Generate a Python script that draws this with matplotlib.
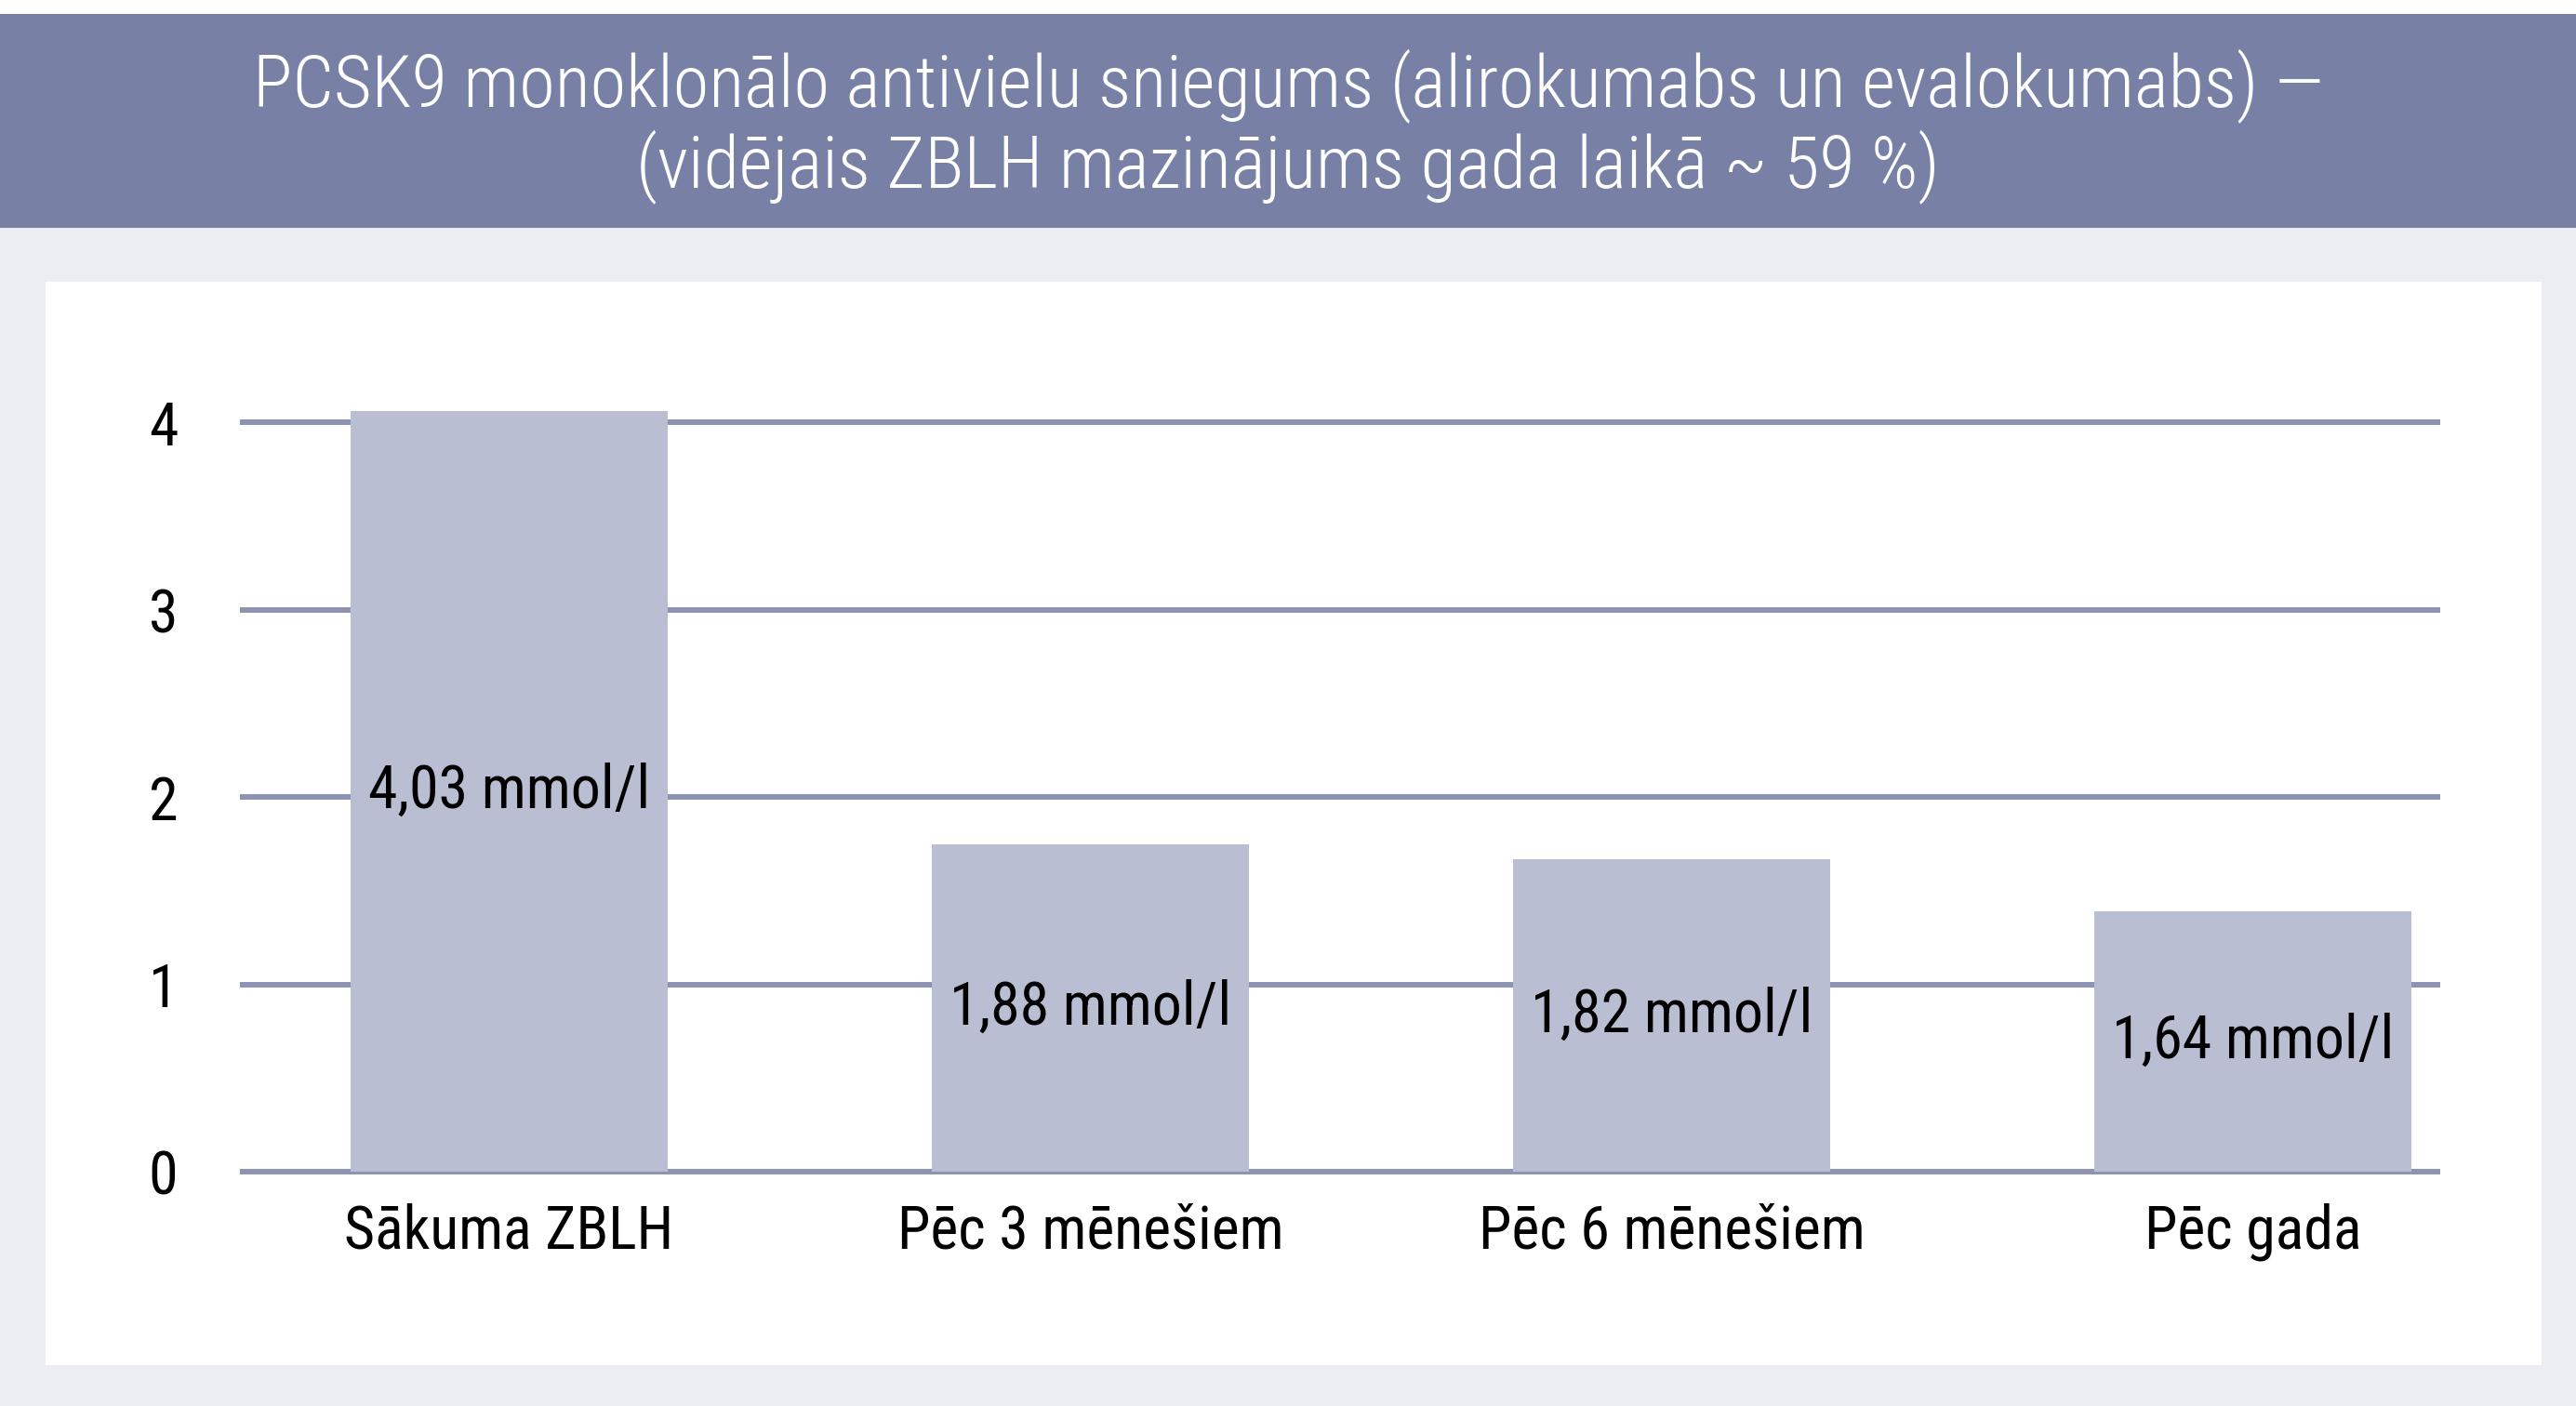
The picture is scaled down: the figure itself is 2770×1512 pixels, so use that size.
import matplotlib
matplotlib.use("Agg")
from matplotlib import pyplot as plt
from matplotlib.patches import Rectangle

plt.rcParams["font.family"] = ["Roboto Condensed", "Roboto", "DejaVu Sans"]

# data
categories = ["Sākuma ZBLH", "Pēc 3 mēnešiem", "Pēc 6 mēnešiem", "Pēc gada"]
bar_heights = [4.06, 1.75, 1.67, 1.39]
value_labels = ["4,03 mmol/l", "1,88 mmol/l", "1,82 mmol/l", "1,64 mmol/l"]
y_ticks = [0, 1, 2, 3, 4]
title_lines = [
    "PCSK9 monoklonālo antivielu sniegums (alirokumabs un evalokumabs) —",
    "(vidējais ZBLH mazinājums gada laikā ~ 59 %)",
]

W, H = 2770, 1512
header_col = "#7880a6"
bg_col = "#ecedf3"
grid_col = "#8d93b3"
bar_col = "#babed3"

fig = plt.figure(figsize=(W / 100, H / 100), dpi=100)
fig.patch.set_facecolor(bg_col)

# white strip on top, header band, white panel
fig.patches.append(Rectangle((0, 1 - 15 / H), 1, 15 / H, transform=fig.transFigure,
                             facecolor="white", edgecolor="none", zorder=-5))
fig.patches.append(Rectangle((0, 1 - 245 / H), 1, 230 / H, transform=fig.transFigure,
                             facecolor=header_col, edgecolor="none", zorder=-5))
fig.patches.append(Rectangle((49 / W, 1 - 1468 / H), (2733 - 49) / W, (1468 - 303) / H,
                             transform=fig.transFigure, facecolor="white", edgecolor="none", zorder=-5))

fig.text(0.5, 1 - 93 / H, title_lines[0], ha="center", va="center", color="white",
         fontsize=56.5, fontweight="light")
fig.text(0.5, 1 - 180 / H, title_lines[1], ha="center", va="center", color="white",
         fontsize=56.5, fontweight="light")

ymin, ymax = -0.1, 4.5
ax = fig.add_axes([258 / W, 1 - 1280.1 / H, 2366 / W, (1280.1 - 353.7) / H])
ax.set_zorder(2)
ax.set_facecolor("none")
ax.set_xlim(-0.463, 3.322)
ax.set_ylim(ymin, ymax)

for y in y_ticks:
    ax.axhline(y, color=grid_col, linewidth=4.3, zorder=1)

x = list(range(len(categories)))
ax.bar(x, bar_heights, width=0.545, color=bar_col, zorder=2)

for xi, h, lab in zip(x, bar_heights, value_labels):
    ax.text(xi, h / 2, lab, ha="center", va="center", fontsize=46, color="black", zorder=3)

ax.set_yticks(y_ticks)
ax.set_yticklabels([str(t) for t in y_ticks], fontsize=46)
ax.set_xticks(x)
ax.set_xticklabels(categories, fontsize=46)
ax.tick_params(axis="y", length=0, pad=48)
ax.tick_params(axis="x", length=0, pad=10)
for s in ax.spines.values():
    s.set_visible(False)

fig.savefig("out.png", dpi=100, facecolor=fig.get_facecolor())
